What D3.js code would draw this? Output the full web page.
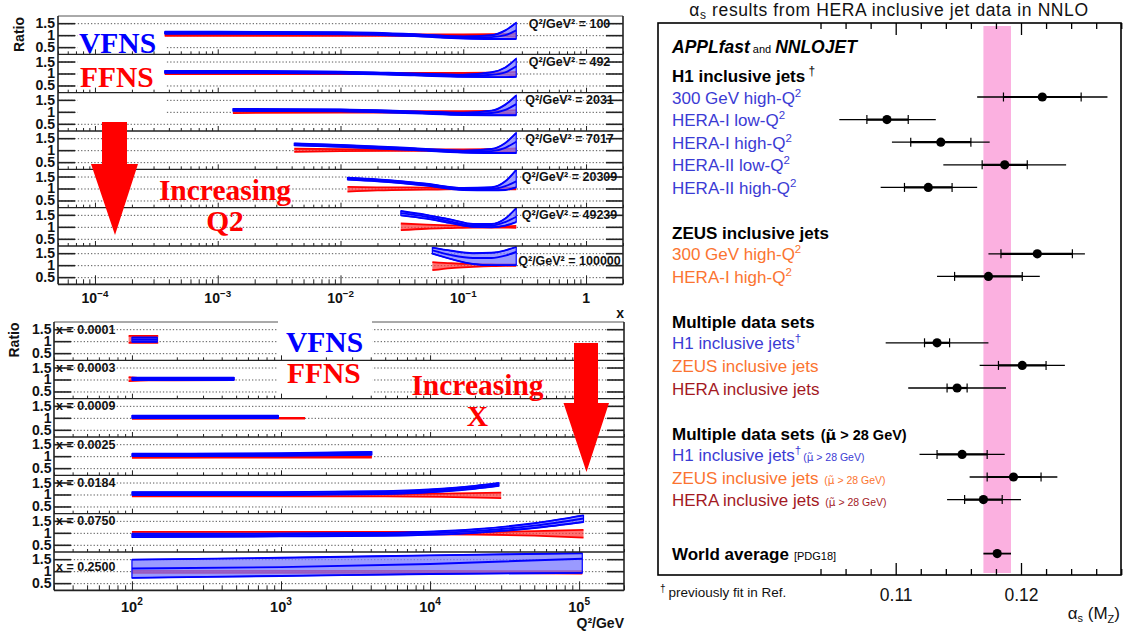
<!DOCTYPE html>
<html>
<head>
<meta charset="utf-8">
<script src="https://cdn.jsdelivr.net/npm/d3@7"></script>
<style>
  body { margin: 0; background: #fff; }
  svg text { font-family: "Liberation Sans", Arial, Helvetica, sans-serif; }
</style>
</head>
<body>
<svg id="chart" width="1128" height="634"></svg>
<script>
// ---------- data: top-left, ratio vs x for fixed Q2 ----------
const q2Rows = ["100", "492", "2031", "7017", "20309", "49239", "100000"];
const q2X = [
  [3.7e-4, 1e-3, 1e-2, 0.04, 0.1, 0.17, 0.22, 0.27],
  [3.7e-4, 1e-3, 1e-2, 0.04, 0.1, 0.17, 0.22, 0.27],
  [1.33e-3, 1e-2, 0.04, 0.1, 0.17, 0.22, 0.27],
  [4.2e-3, 1e-2, 0.04, 0.1, 0.17, 0.22, 0.27],
  [0.0114, 0.02, 0.05, 0.1, 0.17, 0.22, 0.27],
  [0.031, 0.05, 0.08, 0.12, 0.17, 0.22, 0.27],
  [0.056, 0.08, 0.12, 0.17, 0.22, 0.27]
];
const q2BlueHi = [
  [1.14, 1.14, 1.12, 1.04, 0.95, 1.0, 1.2, 1.52],
  [1.11, 1.11, 1.08, 1.0, 0.95, 1.05, 1.25, 1.62],
  [1.12, 1.1, 1.02, 0.96, 1.05, 1.3, 1.68],
  [1.28, 1.22, 1.08, 0.98, 1.05, 1.3, 1.72],
  [1.45, 1.38, 1.2, 1.02, 1.05, 1.3, 1.78],
  [1.66, 1.5, 1.3, 1.12, 1.12, 1.35, 1.78],
  [1.73, 1.6, 1.5, 1.52, 1.62, 1.76]
];
const q2BlueMid = [
  [1.1, 1.1, 1.08, 1.0, 0.9, 0.92, 1.0, 1.2],
  [1.07, 1.07, 1.04, 0.96, 0.9, 0.95, 1.05, 1.3],
  [1.08, 1.06, 0.98, 0.91, 0.95, 1.08, 1.32],
  [1.24, 1.18, 1.04, 0.94, 0.96, 1.1, 1.35],
  [1.41, 1.34, 1.16, 0.98, 0.98, 1.1, 1.3],
  [1.57, 1.42, 1.22, 1.05, 1.05, 1.2, 1.42],
  [1.62, 1.42, 1.3, 1.3, 1.4, 1.55]
];
const q2BlueLo = [
  [1.06, 1.06, 1.04, 0.96, 0.86, 0.84, 0.84, 0.84],
  [1.03, 1.03, 1.0, 0.92, 0.86, 0.85, 0.85, 0.86],
  [1.04, 1.02, 0.94, 0.87, 0.86, 0.86, 0.86],
  [1.2, 1.14, 1.0, 0.9, 0.88, 0.88, 0.88],
  [1.37, 1.3, 1.12, 0.94, 0.92, 0.94, 1.05],
  [1.48, 1.34, 1.15, 1.0, 0.98, 1.05, 1.2],
  [1.48, 1.25, 1.05, 1.0, 1.0, 1.0]
];
const q2RedHi = [
  [1.03, 1.03, 1.03, 1.03, 1.03, 1.04, 1.05, 1.07],
  [1.03, 1.03, 1.03, 1.03, 1.03, 1.04, 1.05, 1.07],
  [1.05, 1.03, 1.03, 1.03, 1.04, 1.05, 1.07],
  [1.06, 1.04, 1.03, 1.03, 1.04, 1.05, 1.07],
  [1.07, 1.05, 1.04, 1.03, 1.03, 1.03, 1.04],
  [1.14, 1.09, 1.06, 1.04, 1.03, 1.03, 1.04],
  [1.13, 1.08, 1.05, 1.04, 1.03, 1.03]
];
const q2RedLo = [
  [0.97, 0.97, 0.97, 0.97, 0.97, 0.96, 0.95, 0.93],
  [0.97, 0.97, 0.97, 0.97, 0.97, 0.96, 0.95, 0.93],
  [0.95, 0.97, 0.97, 0.97, 0.96, 0.95, 0.93],
  [0.93, 0.96, 0.97, 0.97, 0.96, 0.95, 0.93],
  [0.87, 0.92, 0.95, 0.97, 0.97, 0.97, 0.96],
  [0.86, 0.92, 0.95, 0.97, 0.97, 0.97, 0.96],
  [0.79, 0.88, 0.93, 0.96, 0.97, 0.97]
];

// ---------- data: bottom-left, ratio vs Q2 for fixed x ----------
const xRows = ["0.0001", "0.0003", "0.0009", "0.0025", "0.0184", "0.0750", "0.2500"];
const xBlueQ = [
  [100, 148],
  [100, 485],
  [100, 960],
  [100, 1000, 4070],
  [100, 1000, 5000, 12000, 20000, 29000],
  [100, 1000, 5000, 20000, 50000, 107000],
  [100, 1000, 10000, 105000]
];
const xBlueHi = [
  [1.15, 1.15],
  [1.08, 1.08],
  [1.09, 1.09],
  [1.1, 1.12, 1.18],
  [1.1, 1.1, 1.14, 1.24, 1.36, 1.48],
  [0.96, 0.97, 1.0, 1.15, 1.4, 1.73],
  [1.48, 1.56, 1.66, 1.75]
];
const xBlueMid = [
  [1.06, 1.06],
  [1.03, 1.03],
  [1.04, 1.04],
  [1.05, 1.07, 1.12],
  [1.04, 1.04, 1.08, 1.18, 1.3, 1.42],
  [0.89, 0.91, 0.94, 1.07, 1.3, 1.6],
  [1.11, 1.17, 1.3, 1.52]
];
const xBlueLo = [
  [0.97, 0.97],
  [0.98, 0.98],
  [0.99, 0.99],
  [1.0, 1.02, 1.06],
  [0.98, 0.98, 1.02, 1.12, 1.24, 1.36],
  [0.82, 0.85, 0.88, 1.0, 1.2, 1.45],
  [0.72, 0.8, 0.88, 0.93]
];
const xRedQ = [
  [95, 150],
  [95, 130, 485],
  [100, 1450],
  [100, 1000, 4070],
  [100, 1000, 5000, 12000, 30000],
  [100, 1000, 5000, 20000, 50000, 107000],
  [100, 1000, 10000, 105000]
];
const xRedHi = [
  [1.22, 1.22],
  [1.1, 1.04, 1.03],
  [1.03, 1.02],
  [1.0, 1.0, 1.0],
  [1.0, 1.0, 1.02, 1.04, 1.08],
  [1.04, 1.04, 1.04, 1.04, 1.07, 1.12],
  [1.01, 1.01, 1.01, 1.0]
];
const xRedLo = [
  [0.93, 0.93],
  [0.93, 0.96, 0.97],
  [0.96, 0.97],
  [0.93, 0.94, 0.94],
  [0.92, 0.92, 0.92, 0.9, 0.85],
  [0.95, 0.95, 0.95, 0.93, 0.88, 0.8],
  [0.93, 0.93, 0.93, 0.9]
];

const ratioTicks = [0.5, 1, 1.5];
const xMajors = [1e-4, 1e-3, 1e-2, 1e-1];
const xMajorExp = ["\u22124", "\u22123", "\u22122", "\u22121"];
const qMajors = [1e2, 1e3, 1e4, 1e5];
const qMajorExp = ["2", "3", "4", "5"];

// ---------- data: right, alpha_s results ----------
const groupTitles = ["H1 inclusive jets^ \u2020", "ZEUS inclusive jets", "Multiple data sets", "Multiple data sets"];
const groupCut = [false, false, false, true];
const itemLabels = [
  "300 GeV high-Q^2", "HERA-I low-Q^2", "HERA-I high-Q^2", "HERA-II low-Q^2", "HERA-II high-Q^2",
  "300 GeV high-Q^2", "HERA-I high-Q^2",
  "H1 inclusive jets^\u2020", "ZEUS inclusive jets", "HERA inclusive jets",
  "H1 inclusive jets^\u2020", "ZEUS inclusive jets", "HERA inclusive jets"
];
const itemGroup = [0, 0, 0, 0, 0, 1, 1, 2, 2, 2, 3, 3, 3];
const itemExp = ["H1", "H1", "H1", "H1", "H1", "ZEUS", "ZEUS", "H1", "ZEUS", "HERA", "H1", "ZEUS", "HERA"];
const alphaVal   = [0.1217, 0.1093, 0.1136, 0.1187, 0.1126, 0.1213, 0.1174, 0.1133, 0.1201, 0.1149, 0.1153, 0.1194, 0.1170];
const innerLo    = [0.1186, 0.1077, 0.1112, 0.1169, 0.1107, 0.1184, 0.1147, 0.1123, 0.1182, 0.1141, 0.1133, 0.1173, 0.1155];
const innerHi    = [0.1248, 0.1110, 0.1160, 0.1205, 0.1145, 0.1241, 0.1201, 0.1143, 0.1220, 0.1157, 0.1173, 0.1216, 0.1185];
const outerLo    = [0.1165, 0.1055, 0.1097, 0.1138, 0.1088, 0.1174, 0.1133, 0.1092, 0.1167, 0.1110, 0.1119, 0.1159, 0.1141];
const outerHi    = [0.1269, 0.1132, 0.1175, 0.1236, 0.1165, 0.1251, 0.1215, 0.1174, 0.1235, 0.1188, 0.1187, 0.1229, 0.1200];
const worldAvg = 0.1181, worldLo = 0.1170, worldHi = 0.1192;
const alphaMajors = [0.11, 0.12];

const expColor = { H1: "#3b3bd4", ZEUS: "#fb7430", HERA: "#a3191f" };

// ---------- drawing ----------
const svg = d3.select("#chart");
const rowH = 268.33 / 7;
const ratioDomain = [0.2, 1.8];
const MU = "\u03bc\u0303";

function powLabel(g, x, y, base, exp, size) {
  const t = g.append("text").attr("x", x).attr("y", y)
    .attr("text-anchor", "middle").attr("font-size", size).attr("font-weight", "bold").attr("fill", "#111");
  t.append("tspan").text(base);
  if (exp !== null) t.append("tspan").attr("dy", -size * 0.45).attr("font-size", size * 0.7).text(exp);
}

function drawPanel(p) {
  const g = svg.append("g");
  const n = p.names.length;
  const bottom = p.top + n * rowH;
  const rowY = i => d3.scaleLinear().domain(ratioDomain).range([p.top + (i + 1) * rowH, p.top + i * rowH]);

  // dotted grid
  p.names.forEach((nm, i) => {
    g.append("g").attr("transform", `translate(${p.left},0)`)
      .call(d3.axisLeft(rowY(i)).tickValues(ratioTicks).tickSize(-(p.right - p.left)).tickFormat(""))
      .call(s => s.select(".domain").remove())
      .selectAll("line").attr("stroke", "#444").attr("stroke-width", 0.9).attr("stroke-dasharray", "1.3,2");
  });
  g.append("line").attr("x1", p.left).attr("x2", p.right).attr("y1", p.top).attr("y2", p.top)
    .attr("stroke", "#555").attr("stroke-width", 1);

  // white legend box
  g.append("rect").attr("x", p.box[0]).attr("y", p.box[1]).attr("width", p.box[2]).attr("height", p.box[3]).attr("fill", "#fff");

  // curves
  p.names.forEach((nm, i) => {
    const y = rowY(i);
    const clipId = p.id + "clip" + i;
    svg.append("clipPath").attr("id", clipId).append("rect")
      .attr("x", p.left).attr("y", p.top + i * rowH).attr("width", p.right - p.left).attr("height", rowH);
    const cg = g.append("g").attr("clip-path", `url(#${clipId})`);
    const red = p.redX[i].map((v, k) => ({ x: v, hi: p.redHi[i][k], lo: p.redLo[i][k] }));
    const blue = p.blueX[i].map((v, k) => ({ x: v, hi: p.blueHi[i][k], mid: p.blueMid[i][k], lo: p.blueLo[i][k] }));
    const area = d3.area().x(d => p.x(d.x)).y0(d => y(d.lo)).y1(d => y(d.hi)).curve(d3.curveMonotoneX);
    const line = key => d3.line().x(d => p.x(d.x)).y(d => y(d[key])).curve(d3.curveMonotoneX);

    cg.append("path").attr("d", area(red)).attr("fill", "#ff3535").attr("fill-opacity", 0.7);
    ["hi", "lo"].forEach(k => cg.append("path").attr("d", line(k)(red))
      .attr("fill", "none").attr("stroke", "#ff0000").attr("stroke-width", 1.8));
    cg.append("path").attr("d", area(blue)).attr("fill", "#7878ff").attr("fill-opacity", 0.75)
      .attr("stroke", "#0000ff").attr("stroke-width", 1.2);
    ["hi", "mid", "lo"].forEach(k => cg.append("path").attr("d", line(k)(blue))
      .attr("fill", "none").attr("stroke", "#0000ff").attr("stroke-width", 1.9));
  });

  // solid y ticks left/right, row separators, tick labels
  p.names.forEach((nm, i) => {
    const y = rowY(i);
    const lAx = g.append("g").attr("transform", `translate(${p.left},0)`)
      .call(d3.axisLeft(y).tickValues(ratioTicks).tickSize(-17).tickPadding(p.labelPad).tickFormat(d => String(d)));
    lAx.select(".domain").remove();
    lAx.selectAll("line").attr("stroke", "#222").attr("stroke-width", 1.6);
    lAx.selectAll("text").attr("font-size", 14).attr("font-weight", "bold").attr("fill", "#111")
      .attr("font-family", "Liberation Sans, Arial, sans-serif");
    const rAx = g.append("g").attr("transform", `translate(${p.right},0)`)
      .call(d3.axisRight(y).tickValues(ratioTicks).tickSize(-17).tickFormat(""));
    rAx.select(".domain").remove();
    rAx.selectAll("line").attr("stroke", "#222").attr("stroke-width", 1.6);

    // x ticks on each row bottom
    const yb = p.top + (i + 1) * rowH;
    const last = i === n - 1;
    const minors = p.x.ticks().filter(v => Math.abs(Math.log10(v) - Math.round(Math.log10(v))) > 1e-6);
    const majors = p.x.ticks().filter(v => Math.abs(Math.log10(v) - Math.round(Math.log10(v))) <= 1e-6);
    [[majors, last ? 9 : 5], [minors, last ? 5 : 3]].forEach(([vals, len]) => {
      const ax = g.append("g").attr("transform", `translate(0,${yb})`)
        .call(d3.axisBottom(p.x).tickValues(vals).tickSize(-len).tickFormat(""));
      ax.select(".domain").remove();
      ax.selectAll("line").attr("stroke", "#222").attr("stroke-width", 1);
    });
    if (i < n - 1) {
      g.append("line").attr("x1", p.left).attr("x2", p.right).attr("y1", yb).attr("y2", yb)
        .attr("stroke", "#222").attr("stroke-width", 1.4);
    }

    // row label
    const lv = last ? 1.2 : 1.5;
    g.append("text").attr("x", p.labelX).attr("y", y(lv) + 4.5)
      .attr("text-anchor", p.labelAnchor).attr("font-size", 12.5).attr("font-weight", "bold").attr("fill", "#111")
      .text(p.labelPrefix + nm);
  });

  // frame
  g.append("line").attr("x1", p.left).attr("x2", p.left).attr("y1", p.top).attr("y2", bottom).attr("stroke", "#222").attr("stroke-width", 1.6);
  g.append("line").attr("x1", p.right).attr("x2", p.right).attr("y1", p.top).attr("y2", bottom).attr("stroke", "#222").attr("stroke-width", 1.6);
  g.append("line").attr("x1", p.left).attr("x2", p.right).attr("y1", bottom).attr("y2", bottom).attr("stroke", "#222").attr("stroke-width", 1.8);

  // x tick labels
  p.majors.forEach((v, k) => powLabel(g, p.x(v), bottom + p.tickLabelDy, "10", p.majorExp[k], p.tickLabelSize));

  // "Ratio"
  g.append("text").attr("transform", `translate(${p.ratioX},${p.ratioY}) rotate(-90)`)
    .attr("text-anchor", "middle").attr("dy", "0.35em").attr("font-size", 14).attr("font-weight", "bold").attr("fill", "#111")
    .text("Ratio");
  return g;
}

// top-left panel
const xTop = d3.scaleLog().domain([5e-5, 2]).range([58, 623]);
const gTop = drawPanel({
  id: "top", x: xTop, left: 58, right: 623, top: 16, names: q2Rows,
  blueX: q2X, blueHi: q2BlueHi, blueMid: q2BlueMid, blueLo: q2BlueLo,
  redX: q2X, redHi: q2RedHi, redLo: q2RedLo,
  box: [78, 27, 87, 90], labelPad: 3,
  labelX: 569.5, labelAnchor: "middle", labelPrefix: "Q\u00b2/GeV\u00b2 = ",
  majors: xMajors, majorExp: xMajorExp, tickLabelDy: 18.5, tickLabelSize: 14,
  ratioX: 19, ratioY: 34.5
});
gTop.append("text").attr("x", xTop(1)).attr("y", 284.3 + 18.5).attr("text-anchor", "middle")
  .attr("font-size", 14).attr("font-weight", "bold").attr("fill", "#111").text("1");
gTop.append("text").attr("x", 624).attr("y", 318).attr("text-anchor", "end")
  .attr("font-size", 14).attr("font-weight", "bold").attr("fill", "#111").text("x");

// bottom-left panel
const xBot = d3.scaleLog().domain([30, 2e5]).range([54, 624]);
const gBot = drawPanel({
  id: "bot", x: xBot, left: 54, right: 624, top: 322, names: xRows,
  blueX: xBlueQ, blueHi: xBlueHi, blueMid: xBlueMid, blueLo: xBlueLo,
  redX: xRedQ, redHi: xRedHi, redLo: xRedLo,
  box: [278, 318, 94, 84], labelPad: 2.5,
  labelX: 56, labelAnchor: "start", labelPrefix: "x = ",
  majors: qMajors, majorExp: qMajorExp, tickLabelDy: 21.5, tickLabelSize: 14.5,
  ratioX: 14.5, ratioY: 340
});
gBot.append("text").attr("x", 624).attr("y", 628).attr("text-anchor", "end")
  .attr("font-size", 14).attr("font-weight", "bold").attr("fill", "#111")
  .text("Q\u00b2/GeV");

// annotations on left panels
function serif(x, y, txt, color, anchor) {
  svg.append("text").attr("x", x).attr("y", y).attr("text-anchor", anchor || "start")
    .attr("font-weight", "bold").attr("font-size", 29.5).attr("fill", color)
    .style("font-family", "'Liberation Serif', 'Times New Roman', serif").text(txt);
}
serif(79, 53, "VFNS", "#0000ff");
serif(80, 86.7, "FFNS", "#ff0000");
serif(225, 200, "Increasing", "#ff0000", "middle");
serif(225, 231, "Q2", "#ff0000", "middle");
serif(286, 351.7, "VFNS", "#0000ff");
serif(287, 383.3, "FFNS", "#ff0000");
serif(477.5, 395, "Increasing", "#ff0000", "middle");
serif(477.5, 426, "X", "#ff0000", "middle");

svg.append("path").attr("fill", "#ff0000")
  .attr("d", "M102,122 L127,122 L127,164 L138,164 L115,235 L91,164 L102,164 Z");
svg.append("path").attr("fill", "#ff0000")
  .attr("d", "M574,343 L598,343 L598,403 L609,403 L586.5,472 L563.5,403 L574,403 Z");

// ---------- right panel ----------
const a = d3.scaleLinear().domain([0.10348, 0.12798]).range([814, 1121]);
const fL = 658, fR = 1121, fT = 23, fB = 575;
const rg = svg.append("g");

rg.append("rect").attr("x", a(worldLo)).attr("y", 26).attr("width", a(worldHi) - a(worldLo)).attr("height", 547)
  .attr("fill", "#fbb0e0");

// axis ticks top and bottom
const aMinors = d3.range(52, 65).map(k => k * 0.002).filter(v => Math.abs(v - 0.11) > 1e-6 && Math.abs(v - 0.12) > 1e-6);
[[alphaMajors, 12], [aMinors, 6]].forEach(([vals, len]) => {
  const top = rg.append("g").attr("transform", `translate(0,${fT})`)
    .call(d3.axisTop(a).tickValues(vals).tickSize(-len).tickFormat("").tickSizeOuter(0));
  top.select(".domain").remove();
  top.selectAll("line").attr("stroke", "#000").attr("stroke-width", 1.3);
  const bot = rg.append("g").attr("transform", `translate(0,${fB})`)
    .call(d3.axisBottom(a).tickValues(vals).tickSize(-len).tickPadding(14).tickSizeOuter(0)
      .tickFormat(len === 12 ? d3.format(".2f") : ""));
  bot.select(".domain").remove();
  bot.selectAll("line").attr("stroke", "#000").attr("stroke-width", 1.3);
  bot.selectAll("text").attr("font-size", 17.5).attr("fill", "#111").attr("font-family", "Liberation Sans, Arial, sans-serif");
});
rg.append("rect").attr("x", fL).attr("y", fT).attr("width", fR - fL).attr("height", fB - fT)
  .attr("fill", "none").attr("stroke", "#000").attr("stroke-width", 1.6);

// writes "main^sup"; returns how far the baseline is still raised
function richText(t, str, supSize, raise) {
  const parts = str.split("^");
  t.append("tspan").text(parts[0]);
  if (parts.length > 1) {
    t.append("tspan").attr("dy", -raise).attr("font-size", supSize).attr("font-weight", "normal").text(parts[1]);
    return raise;
  }
  return 0;
}
function cutNote(t, size, dy, dx, bold) {
  const s = t.append("tspan").attr("dy", dy).attr("dx", dx).attr("font-size", size);
  if (bold) s.attr("font-weight", "bold");
  s.text(" (");
  t.append("tspan").attr("font-size", size).attr("font-family", "DejaVu Sans, sans-serif")
    .attr("font-weight", bold ? "bold" : "normal").text(MU);
  t.append("tspan").attr("font-size", size).attr("font-weight", bold ? "bold" : "normal").text(" > 28 GeV)");
}

// title
const title = rg.append("text").attr("x", 889).attr("y", 15.5).attr("text-anchor", "middle")
  .attr("font-size", 17.5).attr("letter-spacing", 0.6).attr("fill", "#111");
title.append("tspan").text("\u03b1");
title.append("tspan").attr("dy", 3).attr("font-size", 12).text("s");
title.append("tspan").attr("dy", -3).text(" results from HERA inclusive jet data in NNLO");

// APPLfast and NNLOJET
const tx = 672;
const appl = rg.append("text").attr("x", tx).attr("y", 53).attr("fill", "#000");
appl.append("tspan").attr("font-size", 17.5).attr("font-weight", "bold").attr("font-style", "italic").text("APPLfast");
appl.append("tspan").attr("font-size", 11).attr("dx", 3).text("and");
appl.append("tspan").attr("font-size", 17.5).attr("font-weight", "bold").attr("font-style", "italic").attr("dx", 4).text("NNLOJET");

// layout of rows
const step = 22.6, headGap = 20.6, groupGap = 45.8;
const itemY = [];
const headY = [];
let yCur = 97;
itemGroup.forEach((gi, k) => {
  if (k === 0) { headY[gi] = yCur - headGap; }
  else if (gi !== itemGroup[k - 1]) { headY[gi] = yCur - step + groupGap; yCur = headY[gi] + headGap; }
  itemY.push(yCur);
  yCur += step;
});
const worldY = itemY[itemY.length - 1] + 54;

groupTitles.forEach((tt, gi) => {
  const t = rg.append("text").attr("x", tx).attr("y", headY[gi] + 6).attr("font-size", 17)
    .attr("font-weight", "bold").attr("fill", "#000");
  const up = richText(t, tt, 12, 7);
  if (groupCut[gi]) cutNote(t, 14.5, up, 2, true);
});

itemLabels.forEach((lab, k) => {
  const col = expColor[itemExp[k]];
  const t = rg.append("text").attr("x", tx).attr("y", itemY[k] + 6.5).attr("font-size", 17).attr("fill", col);
  const up = richText(t, lab, 11.5, 7);
  if (groupCut[itemGroup[k]]) cutNote(t, 10.5, up, up ? -1 : 3, false);
});

// world average label
const wl = rg.append("text").attr("x", tx).attr("y", worldY + 6).attr("fill", "#000");
wl.append("tspan").attr("font-size", 17).attr("font-weight", "bold").text("World average");
wl.append("tspan").attr("font-size", 11).attr("dx", 2).text(" [PDG18]");

// error bars
const bars = rg.append("g");
alphaVal.forEach((v, k) => {
  const y = itemY[k];
  bars.append("line").attr("x1", a(outerLo[k])).attr("x2", a(outerHi[k])).attr("y1", y).attr("y2", y)
    .attr("stroke", "#000").attr("stroke-width", 1.3);
  bars.append("line").attr("x1", a(innerLo[k])).attr("x2", a(innerHi[k])).attr("y1", y).attr("y2", y)
    .attr("stroke", "#000").attr("stroke-width", 2.2);
  [innerLo[k], innerHi[k]].forEach(e => bars.append("line").attr("x1", a(e)).attr("x2", a(e))
    .attr("y1", y - 4.5).attr("y2", y + 4.5).attr("stroke", "#000").attr("stroke-width", 1.2));
  bars.append("circle").attr("cx", a(v)).attr("cy", y).attr("r", 4.6).attr("fill", "#000");
});
bars.append("line").attr("x1", a(worldLo)).attr("x2", a(worldHi)).attr("y1", worldY).attr("y2", worldY)
  .attr("stroke", "#000").attr("stroke-width", 1.8);
bars.append("circle").attr("cx", a(worldAvg)).attr("cy", worldY).attr("r", 4.6).attr("fill", "#000");

// footnote and axis title
const fn = rg.append("text").attr("x", 660).attr("y", 597).attr("fill", "#111");
fn.append("tspan").attr("font-size", 10).attr("dy", -5).text("\u2020");
fn.append("tspan").attr("font-size", 13.5).attr("dy", 5).attr("dx", 3).text("previously fit in Ref.");

const at = rg.append("text").attr("x", 1120).attr("y", 619).attr("text-anchor", "end").attr("font-size", 17).attr("fill", "#111");
at.append("tspan").text("\u03b1");
at.append("tspan").attr("dy", 3).attr("font-size", 11).text("s");
at.append("tspan").attr("dy", -3).text(" (M");
at.append("tspan").attr("dy", 4).attr("font-size", 11).text("Z");
at.append("tspan").attr("dy", -4).text(")");
</script>
</body>
</html>
